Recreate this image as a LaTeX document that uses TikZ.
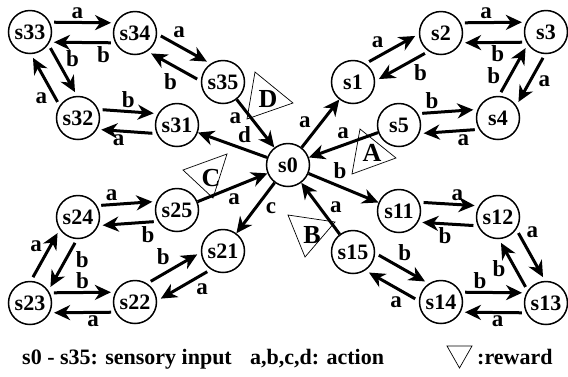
\documentclass[tikz,border=0pt]{standalone}
\usepackage{fontspec}
\setmainfont{Liberation Serif}[BoldFont={Liberation Serif Bold}]
\newfontfamily\tnr{Liberation Serif}[BoldFont={Liberation Serif Bold}]
\usetikzlibrary{arrows.meta,calc}
\begin{document}
\begin{tikzpicture}[x=1pt,y=-1pt,
  st/.style={circle,draw,line width=1.5pt,minimum size=43pt,inner sep=0pt,font=\tnr\fontsize{22}{22}\selectfont\bfseries},
  arr/.style={line width=3pt,-{Stealth[length=16pt,width=15pt,inset=5pt]}},
  pr/.style={arr,to path={($(\tikztostart)!10pt!90:(\tikztotarget)$) -- ($(\tikztotarget)!10pt!-90:(\tikztostart)$) \tikztonodes},shorten <=24pt,shorten >=24pt},
  lb/.style={font=\tnr\fontsize{23}{23}\selectfont\bfseries,inner sep=2pt},
  rw/.style={draw,line width=0.7pt},
  rwl/.style={font=\tnr\fontsize{26}{26}\selectfont\bfseries,inner sep=0pt},
  lg/.style={font=\tnr\fontsize{22}{22}\selectfont\bfseries,inner sep=0pt,anchor=base west}
]
\useasboundingbox (0,0) rectangle (568,376);
% reward triangles
\draw[rw] (255,72) -- (293,103) -- (247,119) -- cycle;
\node[rwl] (D) at (268,99) {D};
\draw[rw] (360,129) -- (396,158) -- (352,174) -- cycle;
\node[rwl] (A) at (372,153) {A};
\draw[rw] (288,215) -- (335,222) -- (305,257) -- cycle;
\node[rwl] (B) at (312,235) {B};
\draw[rw] (183,170) -- (227,154) -- (213,198) -- cycle;
\node[rwl] (C) at (211,178) {C};
% states
\node[st] (s0) at (288,165) {s0};
\node[st] (s1) at (353,82) {s1};
\node[st] (s2) at (441,33) {s2};
\node[st] (s3) at (546,32) {s3};
\node[st] (s4) at (498,118) {s4};
\node[st] (s5) at (399,125) {s5};
\node[st] (s11) at (399,211) {s11};
\node[st] (s12) at (498,217) {s12};
\node[st] (s13) at (546,303) {s13};
\node[st] (s14) at (441,302) {s14};
\node[st] (s15) at (353,252) {s15};
\node[st] (s21) at (223,251) {s21};
\node[st] (s22) at (135,302) {s22};
\node[st] (s23) at (30,303) {s23};
\node[st] (s24) at (78,217) {s24};
\node[st] (s25) at (177,210) {s25};
\node[st] (s31) at (177,125) {s31};
\node[st] (s32) at (78,118) {s32};
\node[st] (s33) at (30,32) {s33};
\node[st] (s34) at (135,33) {s34};
\node[st] (s35) at (223,82) {s35};
% upper left
\draw[pr] (s33) to node[lb,auto,pos=.45]{a} (s34);
\draw[pr] (s34) to node[lb,auto,pos=.3]{b} (s33);
\draw[pr] (s34) to node[lb,auto,pos=.34]{a} (s35);
\draw[pr] (s35) to node[lb,auto,pos=.43]{b} (s34);
\draw[pr] (s33) to node[lb,auto,pos=.5]{b} (s32);
\draw[pr] (s32) to node[lb,auto,pos=.39]{a} (s33);
\draw[pr] (s32) to node[lb,auto,pos=.4]{b} (s31);
\draw[pr] (s31) to node[lb,auto,pos=.49]{a} (s32);
\draw[arr] (s35) -- node[lb,auto,swap,pos=.21]{a} (s0);
\draw[arr] (s0) -- node[lb,auto,swap,pos=.47]{d} (s31);
% upper right
\draw[arr] (s0) -- node[lb,auto,pos=.33]{a} (s1);
\draw[pr] (s1) to node[lb,auto,pos=.44]{a} (s2);
\draw[pr] (s2) to node[lb,auto,pos=.4]{b} (s1);
\draw[pr] (s2) to node[lb,auto,pos=.43]{a} (s3);
\draw[pr] (s3) to node[lb,auto,pos=.46]{b} (s2);
\draw[pr] (s4) to node[lb,auto,pos=.3]{b} (s3);
\draw[pr] (s3) to node[lb,auto,pos=.41]{a} (s4);
\draw[pr] (s5) to node[lb,auto,pos=.44]{b} (s4);
\draw[pr] (s4) to node[lb,auto,pos=.45]{a} (s5);
\draw[arr] (s5) -- node[lb,auto,swap,pos=.37]{a} (s0);
% lower left
\draw[arr] (s25) -- node[lb,auto,swap,pos=.39]{a} (s0);
\draw[pr] (s24) to node[lb,auto,pos=.44]{a} (s25);
\draw[pr] (s25) to node[lb,auto,pos=.4]{b} (s24);
\draw[pr] (s23) to node[lb,auto,pos=.5]{a} (s24);
\draw[pr] (s24) to node[lb,auto,pos=.3]{b} (s23);
\draw[pr] (s23) to node[lb,auto,pos=.5]{b} (s22);
\draw[pr] (s22) to node[lb,auto,pos=.4]{a} (s23);
\draw[pr] (s22) to node[lb,auto,pos=.49]{b} (s21);
\draw[pr] (s21) to node[lb,auto,pos=.4]{a} (s22);
\draw[arr] (s0) -- node[lb,auto,pos=.32]{c} (s21);
% lower right
\draw[arr] (s0) -- node[lb,auto,pos=.31]{b} (s11);
\draw[pr] (s11) to node[lb,auto,pos=.49]{a} (s12);
\draw[pr] (s12) to node[lb,auto,pos=.43]{b} (s11);
\draw[pr] (s12) to node[lb,auto,pos=.34]{a} (s13);
\draw[pr] (s13) to node[lb,auto,pos=.59]{b} (s12);
\draw[pr] (s14) to node[lb,auto,pos=.37]{b} (s13);
\draw[pr] (s13) to node[lb,auto,pos=.46]{a} (s14);
\draw[pr] (s15) to node[lb,auto,pos=.42]{b} (s14);
\draw[pr] (s14) to node[lb,auto,pos=.35]{a} (s15);
\draw[arr] (s15) -- node[lb,auto,swap,pos=.34]{a} (s0);
% legend
\node[lg] (l1) at (22,364) {s0 - s35: sensory input};
\node[lg] (l2) at (250,364) {a,b,c,d: action};
\draw[rw] (447,346) -- (472,346) -- (459.5,368) -- cycle;
\node[lg] (l3) at (477,364) {:reward};
\end{tikzpicture}
\end{document}
